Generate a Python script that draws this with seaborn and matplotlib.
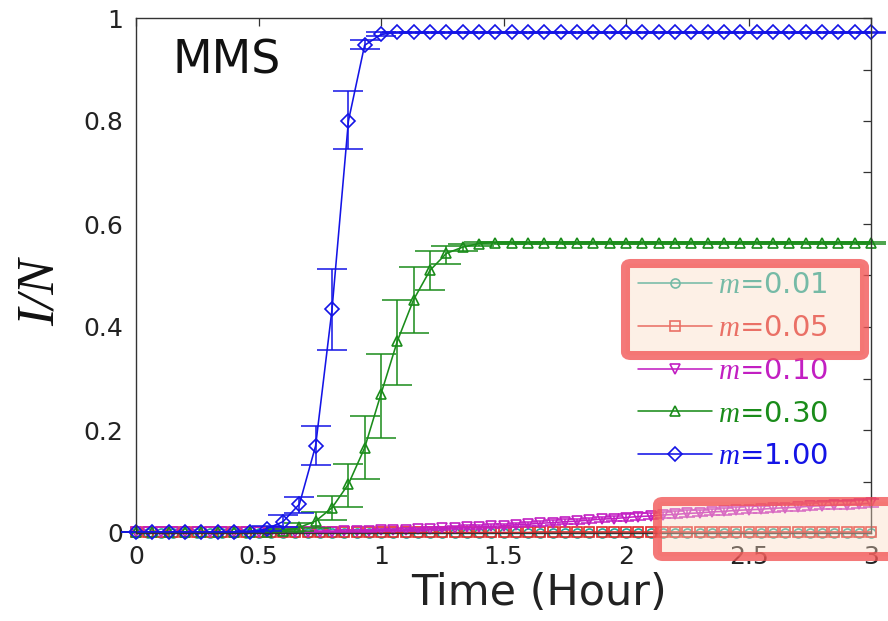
import numpy as np
import pandas as pd
import matplotlib
matplotlib.use("Agg")
import matplotlib.pyplot as plt
import seaborn as sns
from matplotlib.patches import FancyBboxPatch
from matplotlib.ticker import MultipleLocator

# ---------------- data ----------------
# fine time grid (3-minute steps) for m=0.01, 0.05, 0.10
t_fine = [0.00, 0.05, 0.10, 0.15, 0.20, 0.25, 0.30, 0.35, 0.40, 0.45,
          0.50, 0.55, 0.60, 0.65, 0.70, 0.75, 0.80, 0.85, 0.90, 0.95,
          1.00, 1.05, 1.10, 1.15, 1.20, 1.25, 1.30, 1.35, 1.40, 1.45,
          1.50, 1.55, 1.60, 1.65, 1.70, 1.75, 1.80, 1.85, 1.90, 1.95,
          2.00, 2.05, 2.10, 2.15, 2.20, 2.25, 2.30, 2.35, 2.40, 2.45,
          2.50, 2.55, 2.60, 2.65, 2.70, 2.75, 2.80, 2.85, 2.90, 2.95, 3.00]
# coarse time grid (4-minute steps) for m=0.30, 1.00
t_coarse = [0.000, 0.067, 0.133, 0.200, 0.267, 0.333, 0.400, 0.467, 0.533, 0.600,
            0.667, 0.733, 0.800, 0.867, 0.933, 1.000, 1.067, 1.133, 1.200, 1.267,
            1.333, 1.400, 1.467, 1.533, 1.600, 1.667, 1.733, 1.800, 1.867, 1.933,
            2.000, 2.067, 2.133, 2.200, 2.267, 2.333, 2.400, 2.467, 2.533, 2.600,
            2.667, 2.733, 2.800, 2.867, 2.933, 3.000]

m001 = [0.0005, 0.0005, 0.0005, 0.0005, 0.0005, 0.0005, 0.0005, 0.0005, 0.0005, 0.0005,
        0.0005, 0.0005, 0.0005, 0.0005, 0.0005, 0.0005, 0.0005, 0.0005, 0.0005, 0.0005,
        0.0005, 0.0005, 0.0005, 0.0005, 0.0005, 0.0005, 0.0005, 0.0005, 0.0005, 0.0005,
        0.0005, 0.0005, 0.0005, 0.0005, 0.0005, 0.0005, 0.0005, 0.0005, 0.0005, 0.0005,
        0.0005, 0.0005, 0.0005, 0.0005, 0.0005, 0.0005, 0.0005, 0.0005, 0.0005, 0.0005,
        0.0005, 0.0005, 0.0005, 0.0005, 0.0005, 0.0005, 0.0005, 0.0005, 0.0005, 0.0005, 0.0005]
m005 = [0.001, 0.001, 0.001, 0.001, 0.001, 0.001, 0.001, 0.001, 0.001, 0.001,
        0.001, 0.001, 0.001, 0.001, 0.001, 0.001, 0.001, 0.001, 0.001, 0.001,
        0.001, 0.001, 0.001, 0.001, 0.001, 0.001, 0.001, 0.001, 0.001, 0.001,
        0.001, 0.001, 0.001, 0.002, 0.002, 0.002, 0.002, 0.002, 0.002, 0.002,
        0.002, 0.002, 0.002, 0.002, 0.002, 0.002, 0.002, 0.002, 0.002, 0.002,
        0.002, 0.002, 0.002, 0.002, 0.002, 0.002, 0.002, 0.002, 0.002, 0.002, 0.002]
m010 = [0.001, 0.001, 0.001, 0.001, 0.001, 0.001, 0.001, 0.001, 0.001, 0.001,
        0.001, 0.001, 0.001, 0.001, 0.001, 0.002, 0.002, 0.003, 0.003, 0.004,
        0.005, 0.005, 0.006, 0.007, 0.008, 0.009, 0.010, 0.011, 0.012, 0.013,
        0.014, 0.016, 0.017, 0.019, 0.020, 0.022, 0.023, 0.025, 0.027, 0.028,
        0.030, 0.032, 0.033, 0.035, 0.036, 0.038, 0.039, 0.041, 0.042, 0.044,
        0.045, 0.046, 0.048, 0.049, 0.050, 0.052, 0.053, 0.054, 0.055, 0.056, 0.058]
m010_err = [0.000, 0.000, 0.000, 0.000, 0.000, 0.000, 0.000, 0.000, 0.000, 0.000,
            0.000, 0.000, 0.001, 0.001, 0.001, 0.001, 0.001, 0.002, 0.002, 0.002,
            0.002, 0.002, 0.003, 0.003, 0.003, 0.003, 0.003, 0.004, 0.004, 0.004,
            0.004, 0.004, 0.004, 0.005, 0.005, 0.005, 0.005, 0.005, 0.005, 0.005,
            0.006, 0.006, 0.006, 0.006, 0.006, 0.006, 0.006, 0.006, 0.007, 0.007,
            0.007, 0.007, 0.007, 0.007, 0.007, 0.007, 0.007, 0.008, 0.008, 0.008, 0.008]

m030 = [0.001, 0.001, 0.001, 0.001, 0.001, 0.001, 0.001, 0.001, 0.001, 0.004,
        0.011, 0.023, 0.049, 0.095, 0.165, 0.270, 0.373, 0.453, 0.510, 0.543,
        0.555, 0.562, 0.564, 0.564, 0.564, 0.564, 0.564, 0.564, 0.564, 0.564,
        0.564, 0.564, 0.564, 0.564, 0.564, 0.564, 0.564, 0.564, 0.564, 0.564,
        0.564, 0.564, 0.564, 0.564, 0.564, 0.564]
m030_lo = [0.001, 0.001, 0.001, 0.001, 0.001, 0.001, 0.001, 0.001, 0.001, 0.001,
           0.003, 0.010, 0.025, 0.050, 0.105, 0.185, 0.288, 0.389, 0.471, 0.523,
           0.548, 0.558, 0.562, 0.562, 0.562, 0.562, 0.562, 0.562, 0.562, 0.562,
           0.562, 0.562, 0.562, 0.562, 0.562, 0.562, 0.562, 0.562, 0.562, 0.562,
           0.562, 0.562, 0.562, 0.562, 0.562, 0.562]
m030_hi = [0.001, 0.001, 0.001, 0.001, 0.001, 0.001, 0.001, 0.001, 0.003, 0.008,
           0.020, 0.040, 0.072, 0.134, 0.228, 0.348, 0.453, 0.516, 0.547, 0.558,
           0.562, 0.566, 0.566, 0.566, 0.566, 0.566, 0.566, 0.566, 0.566, 0.566,
           0.566, 0.566, 0.566, 0.566, 0.566, 0.566, 0.566, 0.566, 0.566, 0.566,
           0.566, 0.566, 0.566, 0.566, 0.566, 0.566]

m100 = [0.002, 0.002, 0.002, 0.002, 0.002, 0.002, 0.002, 0.002, 0.008, 0.022,
        0.056, 0.169, 0.434, 0.800, 0.947, 0.968, 0.972, 0.972, 0.972, 0.972,
        0.972, 0.972, 0.972, 0.972, 0.972, 0.972, 0.972, 0.972, 0.972, 0.972,
        0.972, 0.972, 0.972, 0.972, 0.972, 0.972, 0.972, 0.972, 0.972, 0.972,
        0.972, 0.972, 0.972, 0.972, 0.972, 0.972]
m100_lo = [0.002, 0.002, 0.002, 0.002, 0.002, 0.002, 0.002, 0.001, 0.004, 0.012,
           0.039, 0.132, 0.356, 0.745, 0.940, 0.965, 0.971, 0.971, 0.971, 0.971,
           0.971, 0.971, 0.971, 0.971, 0.971, 0.971, 0.971, 0.971, 0.971, 0.971,
           0.971, 0.971, 0.971, 0.971, 0.971, 0.971, 0.971, 0.971, 0.971, 0.971,
           0.971, 0.971, 0.971, 0.971, 0.971, 0.971]
m100_hi = [0.002, 0.002, 0.002, 0.002, 0.002, 0.002, 0.002, 0.004, 0.014, 0.035,
           0.070, 0.207, 0.512, 0.858, 0.957, 0.972, 0.973, 0.973, 0.973, 0.973,
           0.973, 0.973, 0.973, 0.973, 0.973, 0.973, 0.973, 0.973, 0.973, 0.973,
           0.973, 0.973, 0.973, 0.973, 0.973, 0.973, 0.973, 0.973, 0.973, 0.973,
           0.973, 0.973, 0.973, 0.973, 0.973, 0.973]

labels = [r"$m$=0.01", r"$m$=0.05", r"$m$=0.10", r"$m$=0.30", r"$m$=1.00"]
colors = ["#1fa595", "#e02a2a", "#c21fc2", "#1a8c1a", "#1414e6"]
markers = ["o", "s", "v", "^", "D"]

xticks = [0, 0.5, 1, 1.5, 2, 2.5, 3]
xtick_labels = ["0", "0.5", "1", "1.5", "2", "2.5", "3"]
yticks = [0, 0.2, 0.4, 0.6, 0.8, 1.0]
ytick_labels = ["0", "0.2", "0.4", "0.6", "0.8", "1"]

# ---------------- style ----------------
sns.set_theme(style="white")
plt.rcParams["font.family"] = ["DejaVu Sans"]
plt.rcParams["mathtext.fontset"] = "custom"
plt.rcParams["mathtext.it"] = "Liberation Serif:italic"
plt.rcParams["mathtext.rm"] = "DejaVu Sans"

W, H = 888, 621
fig = plt.figure(figsize=(W / 100, H / 100), dpi=100)
L, R, T, B = 136, 871, 18, 533
ax = fig.add_axes([L / W, 1 - B / H, (R - L) / W, (B - T) / H])

series = [
    (t_fine, m001, None, None),
    (t_fine, m005, None, None),
    (t_fine, m010, [v - e for v, e in zip(m010, m010_err)], [v + e for v, e in zip(m010, m010_err)]),
    (t_coarse, m030, m030_lo, m030_hi),
    (t_coarse, m100, m100_lo, m100_hi),
]

handles = []
for (tt, yy, lo, hi), lab, col, mk in zip(series, labels, colors, markers):
    if lo is not None:
        lo_a = np.asarray(lo)
        hi_a = np.asarray(hi)
        ax.errorbar(tt, (lo_a + hi_a) / 2, yerr=(hi_a - lo_a) / 2, fmt="none",
                    ecolor=col, elinewidth=1.1, capsize=11 if mk in "^D" else 6,
                    capthick=1.1, clip_on=False)
    df = pd.DataFrame({"t": tt, "v": yy})
    ms = 6.5 if mk in "os" else 7
    sns.lineplot(data=df, x="t", y="v", ax=ax, color=col, marker=mk,
                 markersize=ms, markerfacecolor="none", markeredgecolor=col,
                 markeredgewidth=1.2, linewidth=1.15, errorbar=None,
                 clip_on=False, label=lab)
    handles.append(ax.lines[-1])

ax.set_xlim(0, 3)
ax.set_ylim(0, 1)
ax.set_xticks(xticks)
ax.set_xticklabels(xtick_labels)
ax.set_yticks(yticks)
ax.set_yticklabels(ytick_labels)
ax.yaxis.set_minor_locator(MultipleLocator(0.1))
ax.tick_params(which="both", direction="in", top=True, right=True,
               length=6, width=0.9, color="#333333", labelsize=18, pad=9)
ax.tick_params(which="minor", length=6)
for sp in ax.spines.values():
    sp.set_visible(True)
    sp.set_color("#333333")
    sp.set_linewidth(1.0)

ax.set_xlabel("Time (Hour)", fontsize=31, color="#222222")
ax.xaxis.label.set_verticalalignment("center")
ax.xaxis.set_label_coords((539 - L) / (R - L), (B - 593) / (B - T))
ax.set_ylabel("I/N", fontsize=38, family=["Liberation Serif"], style="italic",
              color="#111111")
ax.yaxis.label.set_verticalalignment("center")
ax.yaxis.set_label_coords((41 - L) / (R - L), (B - 292) / (B - T))
for lbl in ax.get_xticklabels() + ax.get_yticklabels():
    lbl.set_color("#222222")

fig.text(172 / W, 1 - 73 / H, "MMS", fontsize=33, ha="left", va="baseline",
         color="#111111")

leg = ax.legend(handles=handles, labels=labels, loc="upper left",
                bbox_to_anchor=(638 / W, 1 - 271 / H), bbox_transform=fig.transFigure,
                frameon=False, fontsize=21, handlelength=2.53, handletextpad=0.2,
                labelspacing=0.51, borderpad=0, borderaxespad=0,
                labelcolor="linecolor")

# highlight boxes (annotation overlays)
def add_box(x0, y0, x1, y1):
    p = FancyBboxPatch((x0 / W, 1 - y1 / H), (x1 - x0) / W, (y1 - y0) / H,
                       boxstyle="round,pad=0,rounding_size=0.006",
                       transform=fig.transFigure, linewidth=6.5,
                       edgecolor=(0.95, 0.33, 0.33, 0.78),
                       facecolor=(0.98, 0.86, 0.76, 0.4), zorder=10)
    fig.add_artist(p)

add_box(625.5, 263.5, 864.5, 355.5)
add_box(657.5, 501.5, 895, 556.5)

fig.savefig("out.png", dpi=100)
